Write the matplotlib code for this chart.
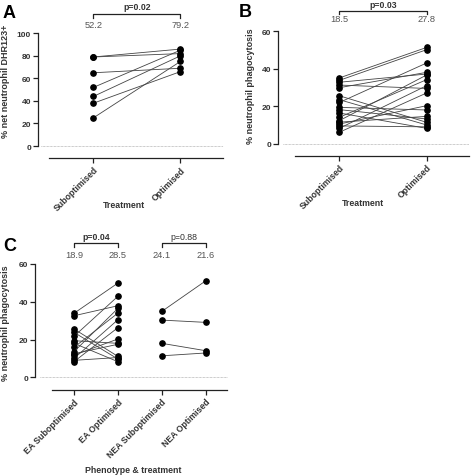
import matplotlib.pyplot as plt
from matplotlib.transforms import blended_transform_factory

plt.rcParams['font.family'] = ['Liberation Sans', 'DejaVu Sans']

W, H = 472, 477

# ---- panel A: DHR123 ----
a_labels = ["Suboptimised", "Optimised"]
a_sub = [79, 79, 65, 52, 44, 38, 25]
a_opt = [86, 82, 69, 85, 80, 66, 75]
a_means = ["52.2", "79.2"]
a_p = "p=0.02"

# ---- panel B: phagocytosis, all ----
b_labels = ["Suboptimised", "Optimised"]
b_sub = [35.1, 33.8, 32.8, 31.3, 29.9, 25.6, 23.5, 22.0, 19.4, 18.2,
         16.4, 14.1, 12.3, 10.5, 8.2, 6.1, 11.5, 9.5]
b_opt = [51.4, 50.2, 37.2, 29.5, 38.1, 11.4, 10.0, 43.1, 18.0, 13.2,
         8.2, 34.2, 36.7, 20.3, 31.0, 27.1, 14.6, 9.0]
b_means = ["18.5", "27.8"]
b_p = "p=0.03"

# ---- panel C: phagocytosis by phenotype ----
c_labels = ["EA Suboptimised", "EA Optimised", "NEA Suboptimised", "NEA Optimised"]
ea_sub = [33.9, 32.6, 25.6, 23.8, 21.7, 19.4, 18.0, 15.9, 13.6, 11.8, 10.0, 8.3, 12.5, 9.0]
ea_opt = [49.9, 37.9, 11.1, 9.7, 42.9, 18.0, 8.3, 34.0, 36.5, 20.3, 30.5, 26.3, 17.5, 10.5]
nea_sub = [34.9, 30.3, 18.0, 11.4]
nea_opt = [51.1, 29.1, 14.1, 12.9]
c_means = ["18.9", "28.5", "24.1", "21.6"]
c_p = ["p=0.04", "p=0.88"]

fig = plt.figure(figsize=(W / 100, H / 100), dpi=100)


def fy(py):
    return 1 - py / H


def panel(px_left, px_right, py_top, py_bottom, ylim, yticks, xlim, labels,
          pairs, spine_off, ylabel, ylabel_xy, xlabel, xlabel_xy,
          letter, letter_xy, brackets, means, br_y):
    ax = fig.add_axes([px_left / W, fy(py_bottom), (px_right - px_left) / W,
                       (py_bottom - py_top) / H])
    for x0, x1, sub, opt in pairs:
        for s, o in zip(sub, opt):
            ax.plot([x0, x1], [s, o], color="#444444", lw=0.6, marker="o", ms=3.8,
                    mfc="black", mec="black", zorder=3)
    ax.set_xlim(*xlim)
    ax.set_ylim(*ylim)
    ax.spines["top"].set_visible(False)
    ax.spines["right"].set_visible(False)
    ax.spines["left"].set_bounds(0, yticks[-1])
    ax.spines["left"].set_position(("outward", spine_off))
    for sp in ("left", "bottom"):
        ax.spines[sp].set_linewidth(0.9)
        ax.spines[sp].set_color("#222222")
    ax.set_yticks(yticks)
    ax.set_yticklabels([str(t) for t in yticks], fontsize=6, fontweight="bold", color="#333333")
    ax.set_xticks(range(len(labels)))
    ax.set_xticklabels(labels, rotation=45, ha="right", va="top", rotation_mode="anchor",
                       fontsize=6.3, fontweight="bold", color="#333333")
    ax.tick_params(axis="both", direction="out", length=3.5, width=0.9, color="#222222", pad=1.5)
    ax_w = px_right - px_left
    ax.axhline(0, xmin=-spine_off / ax_w, xmax=1, clip_on=False, ls=(0, (1, 1)),
               lw=0.5, color="#999999")

    fig.text(ylabel_xy[0] / W, fy(ylabel_xy[1]), ylabel, rotation=90, ha="center", va="center",
             fontsize=6.5, fontweight="bold", color="#333333")
    fig.text(xlabel_xy[0] / W, fy(xlabel_xy[1]), xlabel, ha="center", va="center",
             fontsize=6.3, fontweight="bold", color="#333333")
    fig.text(letter_xy[0] / W, fy(letter_xy[1]), letter, ha="left", va="top",
             fontsize=13, fontweight="bold")

    tr = blended_transform_factory(ax.transData, fig.transFigure)
    y_p, y_bar, y_leg, y_mean = br_y
    for (x0, x1, txt, bold) in brackets:
        ax.plot([x0, x0, x1, x1], [fy(y_leg), fy(y_bar), fy(y_bar), fy(y_leg)],
                transform=tr, color="#222222", lw=0.9, clip_on=False)
        ax.text((x0 + x1) / 2, fy(y_p), txt, transform=tr, ha="center", va="center",
                fontsize=6.3, fontweight="bold" if bold else "normal", color="#333333")
    for i, m in enumerate(means):
        ax.text(i, fy(y_mean), m, transform=tr, ha="center", va="center",
                fontsize=6.7, color="#555555")
    return ax


panel(49, 223, 34.3, 159, (-10.6, 100), [0, 20, 40, 60, 80, 100], (-0.51, 1.49),
      a_labels, [(0, 1, a_sub, a_opt)], 8,
      "% net neutrophil DHR123+", (6, 81), "Treatment", (124, 206),
      "A", (3, 5), [(0, 1, a_p, True)], a_means, (8, 15, 18.5, 25))

panel(295, 469, 32.3, 156.7, (-6.4, 60), [0, 20, 40, 60], (-0.507, 1.484),
      b_labels, [(0, 1, b_sub, b_opt)], 12,
      "% neutrophil phagocytosis", (250, 86), "Treatment", (363, 204),
      "B", (239, 4), [(0, 1, b_p, True)], b_means, (5, 11.7, 15, 20))

panel(51.7, 226.7, 265, 391, (-6.7, 60), [0, 20, 40, 60], (-0.508, 3.478),
      c_labels, [(0, 1, ea_sub, ea_opt), (2, 3, nea_sub, nea_opt)], 12,
      "% neutrophil phagocytosis", (6, 323), "Phenotype & treatment", (133, 471),
      "C", (3, 238), [(0, 1, c_p[0], True), (2, 3, c_p[1], False)], c_means,
      (238, 244, 248, 255))

fig.savefig("out.png", dpi=100, facecolor="white")
